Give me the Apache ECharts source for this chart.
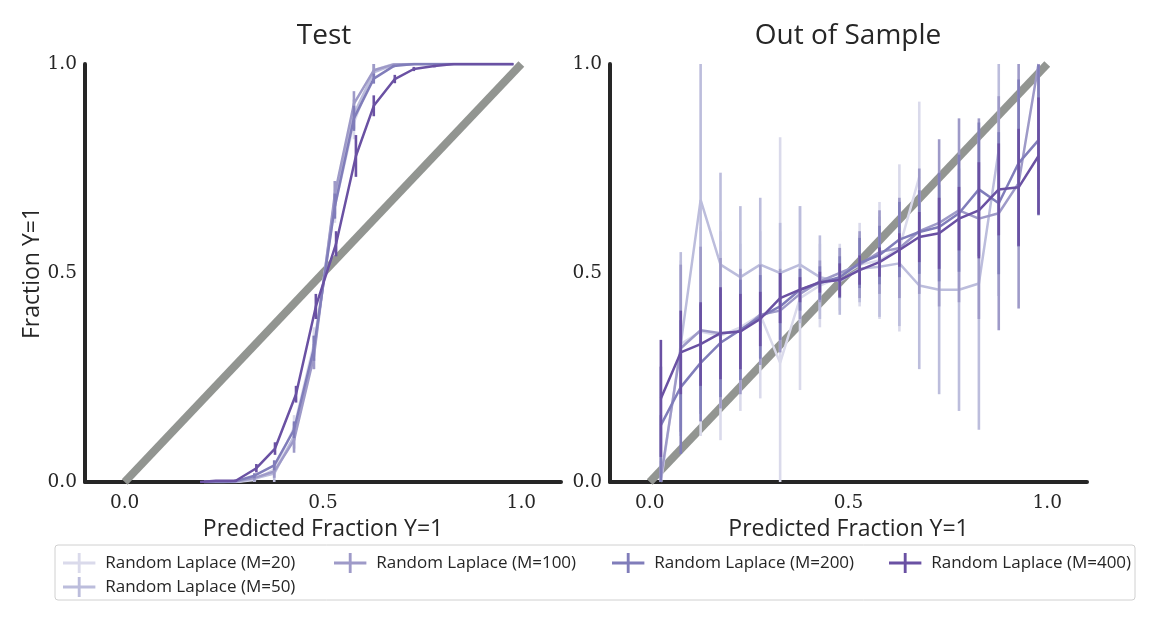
<!DOCTYPE html>
<html lang="en">
<head>
    <meta charset="UTF-8">
    <title>Calibration</title>
    <script src="https://cdn.jsdelivr.net/npm/echarts@6.0.0/dist/echarts.min.js"></script>
</head>
<body style="margin:0; background:#fff;">
    <div id="main" style="width:1160px; height:623px;"></div>
    <script type="text/javascript">
        var myChart = echarts.init(document.getElementById('main'));

        var names = ['Random Laplace (M=20)', 'Random Laplace (M=50)', 'Random Laplace (M=100)',
                     'Random Laplace (M=200)', 'Random Laplace (M=400)'];
        var colors = ['#dadaeb', '#bcbddc', '#9e9ac8', '#807dba', '#6a51a3'];
        var diagonal = [[0, 0], [1, 1]];
        var tickValues = [0, 0.5, 1];

        // Test panel
        var testX = [0.2, 0.25, 0.28, 0.327, 0.377, 0.427, 0.477, 0.53, 0.578, 0.628, 0.678, 0.73, 0.78, 0.83, 0.88, 0.93, 0.98];
        var testX400 = [0.19, 0.23, 0.28, 0.332, 0.379, 0.432, 0.482, 0.533, 0.583, 0.628, 0.681, 0.729, 0.781, 0.83, 0.88, 0.93, 0.98];
        var test20 = [0, 0, 0, 0.005, 0.03, 0.13, 0.33, 0.66, 0.86, 0.985, 1, 1, 1, 1, 1, 1, 1];
        var test50 = [0, 0, 0, 0.008, 0.02, 0.11, 0.31, 0.68, 0.88, 0.98, 0.998, 1, 1, 1, 1, 1, 1];
        var test100 = [0, 0, 0.001, 0.01, 0.025, 0.1, 0.3, 0.69, 0.905, 0.985, 0.999, 1, 1, 1, 1, 1, 1];
        var test200 = [0, 0, 0.002, 0.015, 0.04, 0.125, 0.32, 0.66, 0.87, 0.965, 0.995, 1, 1, 1, 1, 1, 1];
        var test400 = [0, 0.003, 0.003, 0.033, 0.08, 0.21, 0.42, 0.57, 0.78, 0.9, 0.964, 0.988, 0.995, 1, 1, 1, 1];
        var testErr20 = [0, 0, 0, 0.01, 0.02, 0.03, 0.04, 0.04, 0.04, 0.02, 0.005, 0, 0, 0, 0, 0, 0];
        var testErr50 = [0, 0, 0, 0.01, 0.02, 0.03, 0.04, 0.04, 0.035, 0.02, 0.005, 0, 0, 0, 0, 0, 0];
        var testErr100 = [0, 0, 0, 0.008, 0.015, 0.03, 0.03, 0.03, 0.03, 0.015, 0.004, 0, 0, 0, 0, 0, 0];
        var testErr200 = [0, 0, 0, 0.006, 0.012, 0.02, 0.03, 0.03, 0.03, 0.012, 0.003, 0, 0, 0, 0, 0, 0];
        var testErr400 = [0, 0, 0.003, 0.01, 0.015, 0.02, 0.03, 0.03, 0.05, 0.025, 0.01, 0.005, 0.003, 0, 0, 0, 0];

        // Out of sample panel
        var sampleX = [0.028, 0.078, 0.128, 0.178, 0.228, 0.278, 0.328, 0.378, 0.428, 0.478,
                       0.528, 0.578, 0.628, 0.678, 0.728, 0.778, 0.828, 0.878, 0.928, 0.978];
        var sample20 = [0, 0.33, 0.36, 0.35, 0.37, 0.4, 0.285, 0.44, 0.47, 0.49,
                        0.52, 0.53, 0.56, 0.73, null, null, null, null, null, null];
        var sample50 = [null, 0.33, 0.675, 0.52, 0.49, 0.52, 0.5, 0.52, 0.49, 0.48,
                        0.51, 0.515, 0.523, 0.47, 0.46, 0.46, 0.475, 0.795, null, null];
        var sample100 = [0.01, 0.32, 0.363, 0.356, 0.36, 0.4, 0.41, 0.45, 0.48, 0.5,
                         0.52, 0.55, 0.56, 0.6, 0.62, 0.65, 0.63, 0.643, 0.715, 1];
        var sample200 = [0.136, 0.227, 0.285, 0.333, 0.364, 0.395, 0.42, 0.46, 0.476, 0.49,
                         0.524, 0.543, 0.58, 0.598, 0.61, 0.643, 0.7, 0.667, 0.763, 0.818];
        var sample400 = [0.2, 0.31, 0.33, 0.356, 0.36, 0.39, 0.44, 0.46, 0.478, 0.483,
                         0.507, 0.526, 0.555, 0.586, 0.595, 0.63, 0.65, 0.7, 0.705, 0.78];
        var sampleErr20 = [0.05, 0.2, 0.25, 0.25, 0.2, 0.2, 0.54, 0.22, 0.1, 0.08,
                           0.1, 0.14, 0.2, 0.18, null, null, null, null, null, null];
        var sampleErr50 = [null, 0.22, 0.5, 0.22, 0.17, 0.16, 0.12, 0.14, 0.1, 0.08,
                           0.08, 0.12, 0.15, 0.2, 0.25, 0.29, 0.35, 0.35, null, null];
        var sampleErr100 = [0.15, 0.2, 0.2, 0.18, 0.15, 0.12, 0.1, 0.06, 0.05, 0.06,
                            0.08, 0.1, 0.12, 0.15, 0.2, 0.22, 0.24, 0.28, 0.3, 0.3];
        var sampleErr200 = [0.14, 0.16, 0.14, 0.13, 0.12, 0.1, 0.08, 0.05, 0.04, 0.05,
                            0.06, 0.07, 0.09, 0.1, 0.13, 0.14, 0.16, 0.17, 0.2, 0.18];
        var sampleErr400 = [0.14, 0.1, 0.1, 0.11, 0.09, 0.065, 0.06, 0.03, 0.025, 0.04,
                            0.035, 0.035, 0.04, 0.06, 0.085, 0.076, 0.115, 0.11, 0.14, 0.14];

        var testSets = [
            [testX, test20, testErr20], [testX, test50, testErr50], [testX, test100, testErr100],
            [testX, test200, testErr200], [testX400, test400, testErr400]
        ];
        var sampleSets = [
            [sampleX, sample20, sampleErr20], [sampleX, sample50, sampleErr50], [sampleX, sample100, sampleErr100],
            [sampleX, sample200, sampleErr200], [sampleX, sample400, sampleErr400]
        ];

        var sansFont = 'Open Sans';
        var serifFont = 'DejaVu Serif';
        var ink = '#262626';

        function zipPoints(xs, ys, es) {
            var out = [];
            for (var i = 0; i < xs.length; i++) {
                if (ys[i] === null) continue;
                out.push([xs[i], ys[i], es[i]]);
            }
            return out;
        }

        // vertical error bar, clipped to the 0..1 y range like the plot area
        function renderErr(params, api) {
            var x = api.value(0);
            var y = api.value(1);
            var e = api.value(2);
            if (!e) return;
            var lo = Math.max(0, y - e);
            var hi = Math.min(1, y + e);
            var p1 = api.coord([x, lo]);
            var p2 = api.coord([x, hi]);
            return {
                type: 'line',
                shape: { x1: p1[0], y1: p1[1], x2: p2[0], y2: p2[1] },
                style: { stroke: api.visual('color'), lineWidth: 2.6 }
            };
        }

        var series = [];
        [0, 1].forEach(function (g) {
            series.push({
                type: 'line',
                xAxisIndex: g,
                yAxisIndex: g,
                data: diagonal,
                showSymbol: false,
                silent: true,
                lineStyle: { color: '#929591', width: 8 },
                z: 1
            });
        });
        var panels = [testSets, sampleSets];
        for (var i = 0; i < names.length; i++) {
            for (var g = 0; g < 2; g++) {
                var pts = zipPoints(panels[g][i][0], panels[g][i][1], panels[g][i][2]);
                series.push({
                    name: names[i],
                    type: 'line',
                    xAxisIndex: g,
                    yAxisIndex: g,
                    data: pts,
                    showSymbol: false,
                    color: colors[i],
                    lineStyle: { color: colors[i], width: 2.5 },
                    z: 2 + i * 2
                });
                series.push({
                    name: names[i],
                    type: 'custom',
                    xAxisIndex: g,
                    yAxisIndex: g,
                    data: pts,
                    renderItem: renderErr,
                    encode: { x: 0, y: 1 },
                    itemStyle: { color: colors[i] },
                    z: 3 + i * 2
                });
            }
        }

        function xAxisFor(g) {
            return {
                type: 'value',
                gridIndex: g,
                min: -0.1,
                max: 1.1,
                name: 'Predicted Fraction Y=1',
                nameLocation: 'middle',
                nameGap: 29,
                nameTextStyle: { fontFamily: sansFont, fontSize: 23, color: ink },
                axisLine: { onZero: false, lineStyle: { color: ink, width: 4 } },
                axisTick: { show: false },
                splitLine: { show: false },
                axisLabel: {
                    customValues: tickValues,
                    margin: 12,
                    fontFamily: serifFont,
                    fontSize: 18.5,
                    color: ink,
                    formatter: function (v) { return v.toFixed(1); }
                }
            };
        }

        function yAxisFor(g) {
            return {
                type: 'value',
                gridIndex: g,
                min: 0,
                max: 1,
                interval: 0.5,
                name: g === 0 ? 'Fraction Y=1' : '',
                nameLocation: 'middle',
                nameGap: 40,
                nameTextStyle: { fontFamily: sansFont, fontSize: 23, color: ink },
                axisLine: { show: true, onZero: false, lineStyle: { color: ink, width: 4 } },
                axisTick: { show: false },
                splitLine: { show: false },
                axisLabel: {
                    margin: 8,
                    fontFamily: serifFont,
                    fontSize: 18.5,
                    color: ink,
                    formatter: function (v) { return v.toFixed(1); }
                }
            };
        }

        var legendIcon = 'path://M0,9h34v3h-34z M15.5,0h3v21h-3z';
        function legendFor(items, left) {
            return {
                data: items,
                left: left,
                top: 548,
                orient: 'vertical',
                itemGap: 4,
                itemWidth: 34,
                itemHeight: 20,
                icon: legendIcon,
                selectedMode: false,
                textStyle: { fontFamily: sansFont, fontSize: 17, color: ink, padding: [0, 0, 0, 4] }
            };
        }

        myChart.setOption({
            backgroundColor: '#fff',
            animation: false,
            grid: [
                { left: 85, top: 64, width: 476, height: 418 },
                { left: 610, top: 64, width: 477, height: 418 }
            ],
            xAxis: [xAxisFor(0), xAxisFor(1)],
            yAxis: [yAxisFor(0), yAxisFor(1)],
            legend: [
                legendFor([names[0], names[1]], 58),
                legendFor([names[2]], 329),
                legendFor([names[3]], 607),
                legendFor([names[4]], 884)
            ],
            graphic: [
                {
                    type: 'text', x: 324, y: 36,
                    style: { text: 'Test', fontFamily: sansFont, fontSize: 28, fill: ink, align: 'center', verticalAlign: 'middle' }
                },
                {
                    type: 'text', x: 848, y: 36,
                    style: { text: 'Out of Sample', fontFamily: sansFont, fontSize: 28, fill: ink, align: 'center', verticalAlign: 'middle' }
                },
                {
                    type: 'rect', x: 55, y: 545, silent: true, z: -1,
                    shape: { width: 1080, height: 55, r: 3 },
                    style: { fill: '#fff', stroke: '#d0d0d0', lineWidth: 1 }
                }
            ],
            series: series
        });
    </script>
</body>
</html>
